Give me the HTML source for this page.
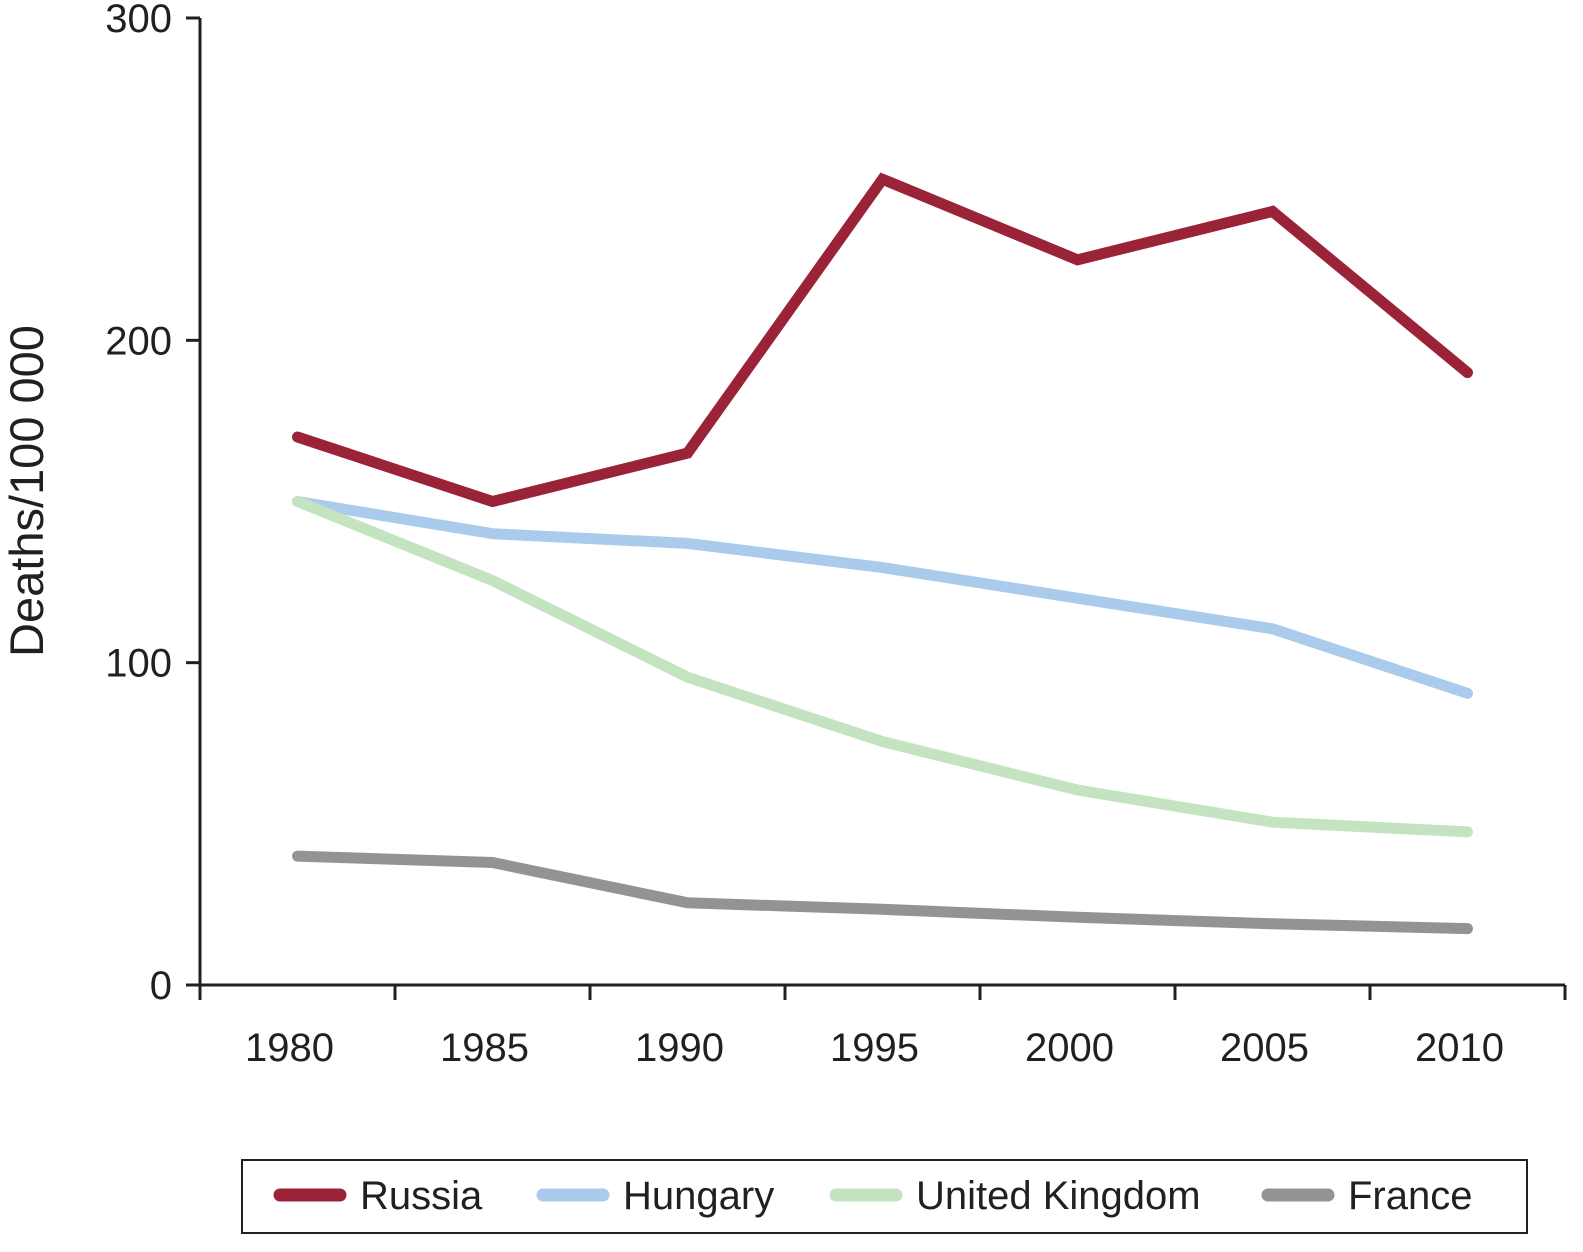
<!DOCTYPE html>
<html><head><meta charset="utf-8">
<style>
html,body{margin:0;padding:0;background:#fff;}
svg text{font-family:"Liberation Sans",Arial,sans-serif;fill:#231f20;}
</style></head>
<body>
<svg id="chart" width="1583" height="1247" viewBox="0 0 1583 1247" xmlns="http://www.w3.org/2000/svg">
<g id="axes"></g>
<g id="series"></g>
<g id="legend"></g>
</svg>
<script>
const categories = ["1980","1985","1990","1995","2000","2005","2010"];
const russia = [170, 150, 165, 250, 225, 240, 190];
const hungary = [150, 140, 137, 129.5, 120, 110.5, 90.5];
const uk = [150, 125.5, 95.5, 75.5, 60.5, 50.5, 47.5];
const france = [40, 38, 25.5, 23.5, 21, 19, 17.5];
const yTicks = [0, 100, 200, 300];
const seriesNames = ["Russia","Hungary","United Kingdom","France"];

const NS="http://www.w3.org/2000/svg";
const colors=["#9b2338","#abcbec","#c4e4c1","#939393"];
const x0=200,x1=1565,y0=985,yTop=18;
const band=(x1-x0)/categories.length;
function xs(i){return x0+band*(i+0.5);}
function ys(v){return y0-(v/300)*(y0-yTop);}
function mk(tag,attrs,parent){const e=document.createElementNS(NS,tag);for(const k in attrs)e.setAttribute(k,attrs[k]);parent.appendChild(e);return e;}
const axes=document.getElementById('axes');
let e=mk('line',{x1:x0,y1:yTop,x2:x0,y2:y0,stroke:'#231f20','stroke-width':3},axes);

e=mk('line',{x1:x0,y1:y0,x2:x1,y2:y0,stroke:'#231f20','stroke-width':3},axes);

yTicks.forEach(v=>{
  const t=mk('line',{x1:x0-14,y1:ys(v),x2:x0,y2:ys(v),stroke:'#231f20','stroke-width':3},axes);
  
  const l=mk('text',{x:x0-28,y:ys(v)+14,'text-anchor':'end','font-size':40},axes);
  l.textContent=v;
  
});
for(let i=0;i<=categories.length;i++){
  const t=mk('line',{x1:x0+band*i,y1:y0,x2:x0+band*i,y2:y0+15,stroke:'#231f20','stroke-width':3},axes);
  
}
categories.forEach((c,i)=>{
  const l=mk('text',{x:xs(i)-8,y:1061,'text-anchor':'middle','font-size':40},axes);
  l.textContent=c;
  
});
e=mk('text',{x:0,y:0,'text-anchor':'middle','font-size':47,transform:'translate(43,491) rotate(-90)'},axes);
e.textContent='Deaths/100 000';


const sg=document.getElementById('series');
[russia,hungary,uk,france].forEach((arr,si)=>{
  const pts=arr.map((v,i)=>xs(i).toFixed(1)+','+ys(v).toFixed(1)).join(' ');
  const p=mk('polyline',{points:pts,fill:'none',stroke:colors[si],'stroke-width':11,'stroke-linejoin':'miter','stroke-linecap':'round'},sg);
  
  
});
sg.appendChild(sg.firstChild);

const lg=document.getElementById('legend');
e=mk('rect',{x:242,y:1160,width:1285,height:73,fill:'#fff',stroke:'#231f20','stroke-width':2},lg);

const lx=[280,543,836,1268];
seriesNames.forEach((n,i)=>{
  const g=mk('g',{},lg);
  
  mk('line',{x1:lx[i],y1:1195,x2:lx[i]+60,y2:1195,stroke:colors[i],'stroke-width':13,'stroke-linecap':'round'},g);
  const t=mk('text',{x:lx[i]+80,y:1209,'font-size':40},g);
  t.textContent=n;
});
</script>
</body></html>
